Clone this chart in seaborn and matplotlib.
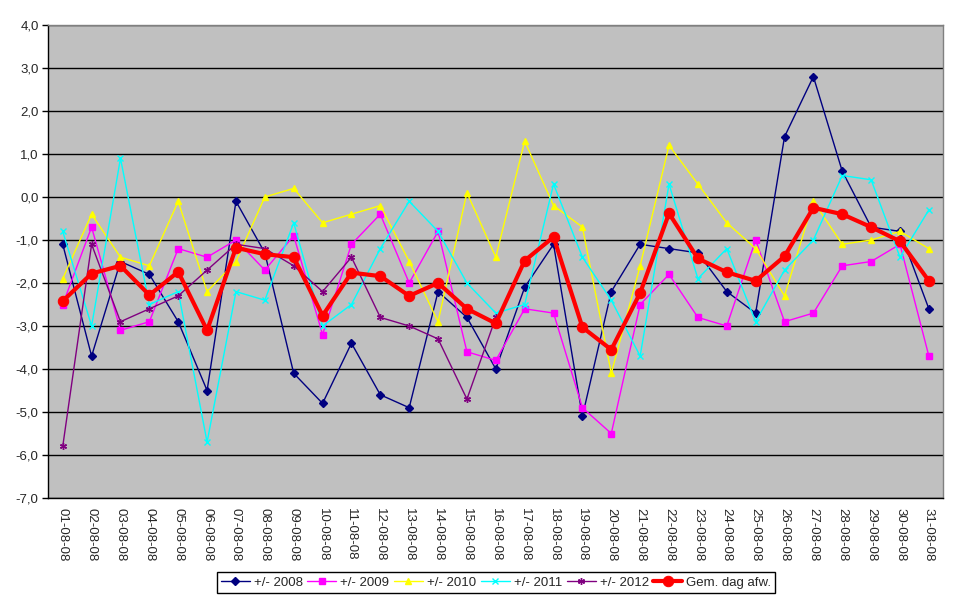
import numpy as np
import matplotlib
matplotlib.use("Agg")
import matplotlib.pyplot as plt
import seaborn as sns

# === Data (deviation per day, August) ===
dates = [f"{d:02d}-08-08" for d in range(1, 32)]

afw_2008 = [-1.1, -3.7, -1.5, -1.8, -2.9, -4.5, -0.1, -1.3, -4.1, -4.8,
            -3.4, -4.6, -4.9, -2.2, -2.8, -4.0, -2.1, -1.1, -5.1, -2.2,
            -1.1, -1.2, -1.3, -2.2, -2.7, 1.4, 2.8, 0.6, -0.7, -0.8, -2.6]
afw_2009 = [-2.5, -0.7, -3.1, -2.9, -1.2, -1.4, -1.0, -1.7, -0.9, -3.2,
            -1.1, -0.4, -2.0, -0.8, -3.6, -3.8, -2.6, -2.7, -4.9, -5.5,
            -2.5, -1.8, -2.8, -3.0, -1.0, -2.9, -2.7, -1.6, -1.5, -1.1, -3.7]
afw_2010 = [-1.9, -0.4, -1.4, -1.6, -0.1, -2.2, -1.5, 0.0, 0.2, -0.6,
            -0.4, -0.2, -1.5, -2.9, 0.1, -1.4, 1.3, -0.2, -0.7, -4.1,
            -1.6, 1.2, 0.3, -0.6, -1.2, -2.3, -0.1, -1.1, -1.0, -0.8, -1.2]
afw_2011 = [-0.8, -3.0, 0.9, -2.5, -2.2, -5.7, -2.2, -2.4, -0.6, -3.0,
            -2.5, -1.2, -0.1, -0.8, -2.0, -2.7, -2.5, 0.3, -1.4, -2.4,
            -3.7, 0.3, -1.9, -1.2, -2.9, -1.7, -1.0, 0.5, 0.4, -1.4, -0.3]
afw_2012 = [-5.8, -1.1, -2.9, -2.6, -2.3, -1.7, -1.1, -1.2, -1.6, -2.2,
            -1.4, -2.8, -3.0, -3.3, -4.7, -2.8]
gem_afw = [-2.42, -1.78, -1.6, -2.28, -1.74, -3.1, -1.18, -1.33, -1.4, -2.76,
           -1.76, -1.84, -2.3, -2.0, -2.6, -2.94, -1.48, -0.93, -3.03, -3.55,
           -2.23, -0.38, -1.43, -1.75, -1.95, -1.38, -0.25, -0.4, -0.7, -1.03, -1.95]

# === Styling ===
sns.set_style("white")
plt.rcParams["font.family"] = ["Liberation Sans", "DejaVu Sans"]
plt.rcParams["font.size"] = 9.5

W, H = 969, 602
fig = plt.figure(figsize=(W / 100, H / 100), dpi=100)
ax = fig.add_axes([48.3 / W, 1 - 498 / H, (943.3 - 48.3) / W, (498 - 25) / H])
ax.set_facecolor("#C0C0C0")

pos = np.arange(len(dates))

series = [
    ("+/- 2008", afw_2008, "#000080", "D", 4.0, 1.0),
    ("+/- 2009", afw_2009, "#FF00FF", "s", 4.5, 1.0),
    ("+/- 2010", afw_2010, "#FFFF00", "^", 5.0, 1.0),
    ("+/- 2011", afw_2011, "#00FFFF", "x", 4.5, 1.0),
    ("+/- 2012", afw_2012, "#800080", (6, 2, 0), 5.0, 1.0),
]
for name, vals, col, mk, ms, lw in series:
    sns.lineplot(x=pos[:len(vals)], y=vals, ax=ax, color=col, marker=mk,
                 markersize=ms, linewidth=lw, markeredgecolor=col,
                 markerfacecolor=col, markeredgewidth=1.0, label=name)

sns.lineplot(x=pos, y=gem_afw, ax=ax, color="#FF0000", marker="o",
             markersize=7.5, linewidth=3.0, markeredgecolor="#FF0000",
             label="Gem. dag afw.")

# === Axes ===
ax.set_xlim(-0.5, len(dates) - 0.5)
ax.set_ylim(-7, 4)
yt = np.arange(-7, 5)
ax.set_yticks(yt)
ax.set_yticklabels([f"{v:.1f}".replace(".", ",") for v in yt])
ax.set_xticks(pos)
ax.set_xticklabels(dates, rotation=270, ha="center", va="top")
ax.set_xticks(np.arange(-0.5, len(dates), 1), minor=True)
ax.tick_params(axis="x", which="major", length=0, pad=7)
ax.tick_params(axis="x", which="minor", length=4, width=1, color="black",
               direction="out")
ax.tick_params(axis="y", length=4, width=1, color="black", direction="out",
               pad=3, left=True)
ax.set_xlabel("")
ax.set_ylabel("")

ax.yaxis.grid(True, color="black", linewidth=1)
ax.set_axisbelow(True)

for side in ["left", "bottom"]:
    ax.spines[side].set_color("black")
    ax.spines[side].set_linewidth(1)
for side in ["top", "right"]:
    ax.spines[side].set_color("#808080")
    ax.spines[side].set_linewidth(1)

leg = ax.legend(loc="center", bbox_to_anchor=(496 / W, 1 - 582.5 / H),
                bbox_transform=fig.transFigure, ncol=6, frameon=True,
                fancybox=False, edgecolor="black", framealpha=1,
                handlelength=2.2, handletextpad=0.3, columnspacing=0.35,
                borderpad=0.3, borderaxespad=0, fontsize=9.5)
leg.get_frame().set_linewidth(1)

fig.savefig("out.png", dpi=100)
